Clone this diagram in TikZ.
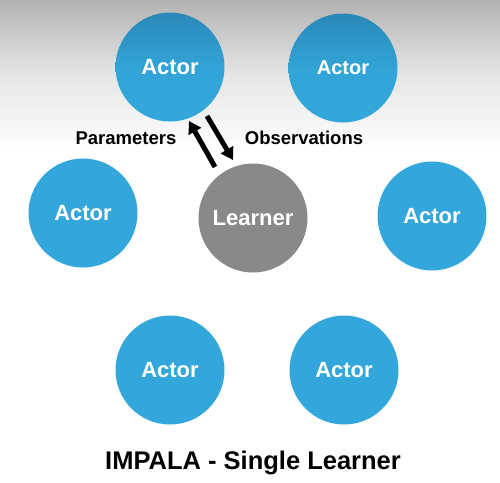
\documentclass[tikz,border=0pt]{standalone}
\usepackage{fontspec}
\setmainfont{Liberation Sans}
\usetikzlibrary{arrows.meta}
\definecolor{actorblue}{HTML}{33A7DB}
\definecolor{actortop}{HTML}{2A88B8}
\definecolor{learnergray}{HTML}{898989}
\begin{document}
\begin{tikzpicture}[x=1pt,y=-1pt,
  agent/.style={circle,minimum size=109pt,inner sep=0pt,text=white,
    font=\bfseries\fontsize{22}{24}\selectfont},
  actor/.style={agent,fill=actorblue},
  actorhi/.style={agent,top color=actortop,bottom color=actorblue,middle color=actorblue!90!actortop},
  learner/.style={agent,fill=learnergray},
  flow/.style={line width=5pt,-{Triangle[length=12pt,width=14pt]}},
  lbl/.style={font=\bfseries\fontsize{18.5}{21}\selectfont,text=black}]
  % background: grey haze fading to white towards the middle
  \useasboundingbox (0,0) rectangle (500,482);
  \fill[white] (0,0) rectangle (500,482);
  \shade[top color=black!30,bottom color=white,middle color=black!10] (0,0) rectangle (500,150);

  % actors and the learner
  \node[actorhi] (a1) at (170,67) {Actor};
  \node[actorhi,font=\bfseries\fontsize{20}{22}\selectfont] (a2) at (343,68) {Actor};
  \node[actor] (a3) at (83,213) {Actor};
  \node[learner] (l) at (253,218) {Learner};
  \node[actor] (a4) at (432,216) {Actor};
  \node[actor] (a5) at (170,370) {Actor};
  \node[actor] (a6) at (344,370) {Actor};

  % exchange between one actor and the learner
  \coordinate (pstart) at (215,167);
  \coordinate (pend) at (189,121);
  \coordinate (ostart) at (207,116);
  \coordinate (oend) at (233,160);
  \draw[flow] (pstart) -- (pend);
  \draw[flow] (ostart) -- (oend);
  \node[lbl] (plbl) at (126,138) {Parameters};
  \node[lbl] (olbl) at (304,138) {Observations};

  % caption
  \node[font=\bfseries\fontsize{25.5}{28}\selectfont] (title) at (253,463) {IMPALA - Single Learner};
\end{tikzpicture}
\end{document}
